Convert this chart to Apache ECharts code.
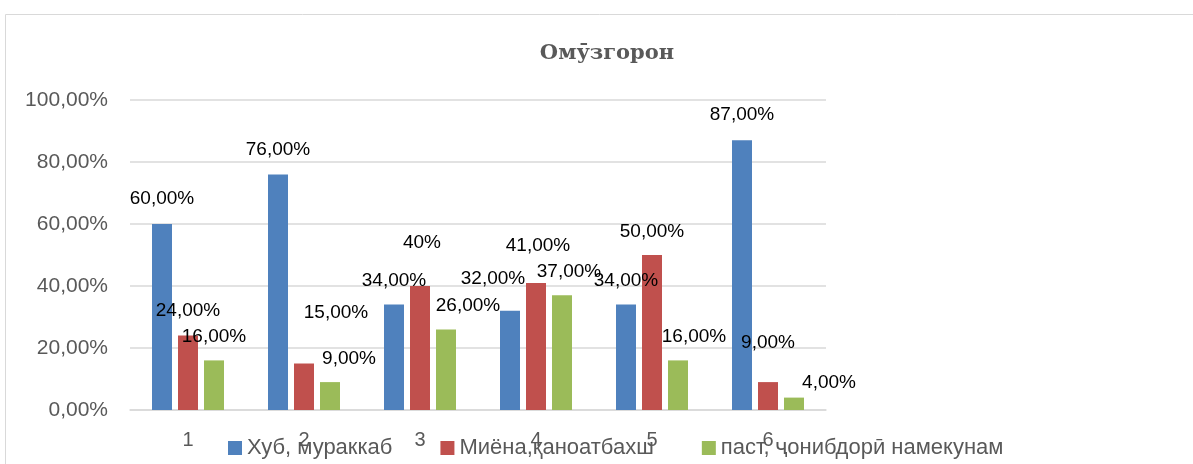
<!DOCTYPE html>
<html>
<head>
<meta charset="utf-8">
<script src="https://cdn.jsdelivr.net/npm/echarts@6/dist/echarts.min.js"></script>
<style>
html,body{margin:0;padding:0;background:#fff;}
#c{width:1193px;height:464px;}
</style>
</head>
<body>
<div id="c"></div>
<script>
const title = 'Омӯзгорон';
const categories = ['1', '2', '3', '4', '5', '6'];
const seriesNames = ['Хуб, мураккаб', 'Миёна,қаноатбахш', 'паст, ҷонибдорӣ намекунам'];
const good = [0.60, 0.76, 0.34, 0.32, 0.34, 0.87];
const medium = [0.24, 0.15, 0.40, 0.41, 0.50, 0.09];
const low = [0.16, 0.09, 0.26, 0.37, 0.16, 0.04];
const goodLabels = ['60,00%', '76,00%', '34,00%', '32,00%', '34,00%', '87,00%'];
const mediumLabels = ['24,00%', '15,00%', '40%', '41,00%', '50,00%', '9,00%'];
const lowLabels = ['16,00%', '9,00%', '26,00%', '37,00%', '16,00%', '4,00%'];
const yTickLabels = ['0,00%', '20,00%', '40,00%', '60,00%', '80,00%', '100,00%'];

// label nudges (styling, px) reproducing manually moved labels
const labelNudge = [
  [[0,-2],[0,-1],[0,0]],
  [[0,-1],[32,-27],[19,0]],
  [[0,0],[2,-20],[22,0]],
  [[-17,-9],[2,-14],[7,0]],
  [[0,0],[0,0],[16,0]],
  [[0,-2],[0,-16],[35,9]]
];

const colors = ['#4f81bd', '#c0504d', '#9bbb59'];
const values = [good, medium, low];
const texts = [goodLabels, mediumLabels, lowLabels];

const chart = echarts.init(document.getElementById('c'));
const series = values.map((arr, si) => ({
  name: seriesNames[si],
  type: 'bar',
  barWidth: 20,
  barGap: '30%',
  itemStyle: { color: colors[si] },
  data: arr.map((v, i) => ({
    value: v,
    label: { offset: labelNudge[i][si], formatter: texts[si][i] }
  })),
  label: {
    show: true,
    position: 'top',
    distance: 14,
    fontFamily: 'Liberation Sans',
    fontSize: 19,
    lineHeight: 19,
    color: '#000'
  }
}));

chart.setOption({
  animation: false,
  title: {
    text: title,
    left: 602,
    textAlign: 'center',
    top: 38,
    textStyle: { fontFamily: 'DejaVu Serif', fontSize: 21, fontWeight: 'bold', color: '#595959' }
  },
  graphic: [{
    type: 'rect',
    shape: { x: 5.5, y: 14.5, width: 1300, height: 500 },
    style: { fill: 'none', stroke: '#d9d9d9', lineWidth: 1 },
    silent: true
  }],
  legend: {
    left: 228,
    top: 437,
    padding: 0,
    itemWidth: 14,
    itemHeight: 14,
    itemGap: 48,
    icon: 'rect',
    textStyle: { fontFamily: 'Liberation Sans', fontSize: 22, color: '#595959', padding: [0, 0, 0, 0] },
    data: seriesNames
  },
  grid: { left: 130, right: 367, top: 100, bottom: 54 },
  xAxis: {
    type: 'category',
    data: categories,
    axisLine: { lineStyle: { color: '#d9d9d9', width: 1.5 } },
    axisTick: { show: false },
    axisLabel: { margin: 20, fontFamily: 'Liberation Sans', fontSize: 20, color: '#595959' }
  },
  yAxis: {
    type: 'value',
    min: 0,
    max: 1,
    interval: 0.2,
    axisLine: { show: false },
    axisTick: { show: false },
    splitLine: { lineStyle: { color: '#d9d9d9', width: 1.5 } },
    axisLabel: {
      margin: 22,
      fontFamily: 'Liberation Sans',
      fontSize: 21,
      color: '#595959',
      formatter: v => yTickLabels[Math.round(v / 0.2)]
    }
  },
  series: series
});
</script>
</body>
</html>
